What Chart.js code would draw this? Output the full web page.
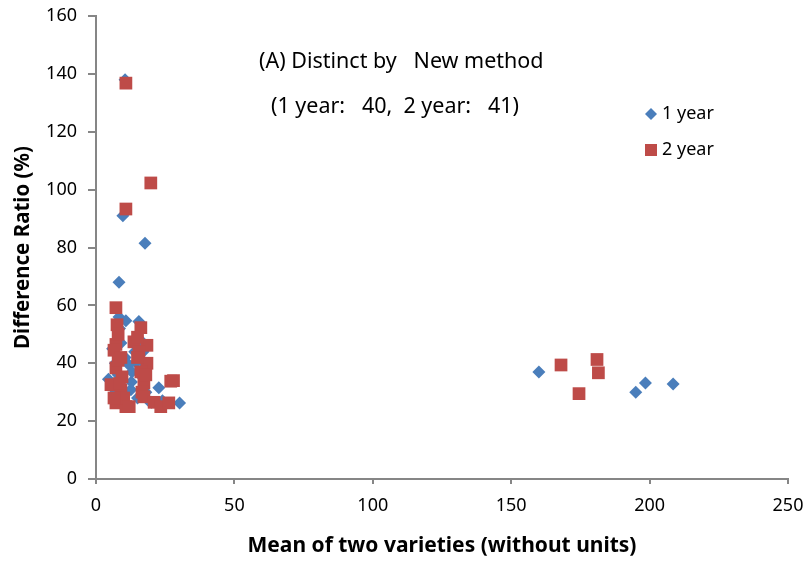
<!DOCTYPE html>
<html>
<head>
<meta charset="utf-8">
<script src="https://cdn.jsdelivr.net/npm/chart.js@4.4.1/dist/chart.umd.min.js"></script>
<style>
  html, body { margin: 0; padding: 0; background: #fff; }
  #wrap { width: 809px; height: 563px; position: relative; }
</style>
</head>
<body>
<div id="wrap"><canvas id="myChart" width="809" height="563"></canvas></div>
<script>
/* data */
const year1X = [10.5, 9.7, 17.7, 8.3, 8.3, 10.8, 15.5, 14.4, 11.9, 4.5, 22.7, 30.2, 12.6, 12.8,
  160, 195, 198.5, 208.5,
  6, 7, 8, 9, 10, 7.5, 11, 14, 16, 17, 18, 19, 20, 16, 9, 6.5, 13, 15, 24, 8.5, 17, 10.5];
const year1Y = [138, 91, 81.5, 68, 56, 54.7, 54.4, 40.3, 39.5, 34.5, 31.5, 26.3, 30.8, 33.5,
  37, 30, 33.2, 32.8,
  45, 40, 36, 32, 29, 27, 26, 44, 41, 35, 30, 27, 26.5, 48, 47, 31, 37, 28, 27, 52, 44, 42];

const year2X = [10.8, 19.8, 10.8, 7.2, 7.6, 16.2, 7.2, 6.5, 13.7, 18.4, 15.5, 9, 18.4, 7.2, 9.4,
  16.2, 27, 5.4, 9, 17.3, 16.6, 7.2, 10.8, 17.3, 21, 23.4, 26.3,
  168, 181, 181.5, 174.5,
  8, 10, 8.5, 15, 28, 6.5, 12, 18, 15, 8];
const year2Y = [136.8, 102.3, 93.3, 59.2, 53.3, 52.3, 46.5, 44.5, 47.4, 46.2, 44, 42, 40, 38.4, 35.3,
  37, 33.8, 32.6, 30.8, 33.2, 30, 26.3, 25, 28.4, 26.5, 25, 26.3,
  39.4, 41.3, 36.7, 29.5,
  41, 28, 33, 42, 34, 28, 25, 36, 49, 50];

const seriesNames = ['1 year', '2 year'];
const blue = '#4a7ebb';
const red = '#be4b48';
const FONT = '"Noto Sans", "DejaVu Sans", sans-serif';

function toPoints(xs, ys){
  return xs.map((x, i) => ({x: x, y: ys[i]}));
}

// title text and legend are drawn inside the plot area
const overlay = {
  id: 'overlay',
  afterDraw: chart => {
    const ctx = chart.ctx;
    ctx.save();
    ctx.fillStyle = '#000';
    ctx.font = '21.5px ' + FONT;
    ctx.textBaseline = 'middle';
    ctx.textAlign = 'left';
    ctx.fillText('(A) Distinct by   New method', 259, 62);
    ctx.fillText('(1 year:   40,  2 year:   41)', 271, 107);

    ctx.font = '18px ' + FONT;
    // legend
    ctx.fillStyle = blue;
    ctx.beginPath();
    ctx.moveTo(651, 108); ctx.lineTo(657, 114); ctx.lineTo(651, 120); ctx.lineTo(645, 114);
    ctx.closePath(); ctx.fill();
    ctx.fillStyle = red;
    ctx.fillRect(645, 144, 12, 12);
    ctx.fillStyle = '#000';
    ctx.fillText(seriesNames[0], 662, 114);
    ctx.fillText(seriesNames[1], 662, 150);
    ctx.restore();
  }
};

const axisColor = '#868686';

new Chart(document.getElementById('myChart'), {
  type: 'scatter',
  plugins: [overlay],
  data: {
    datasets: [{
      label: seriesNames[0],
      data: toPoints(year1X, year1Y),
      pointStyle: 'rectRot',
      pointRadius: 6.5,
      backgroundColor: blue,
      borderColor: blue,
      borderWidth: 0,
      order: 2
    }, {
      label: seriesNames[1],
      data: toPoints(year2X, year2Y),
      pointStyle: 'rect',
      pointRadius: 9,
      backgroundColor: red,
      borderColor: red,
      borderWidth: 0,
      order: 1
    }]
  },
  options: {
    responsive: false,
    animation: false,
    events: [],
    layout: { padding: { left: 0, right: 21, top: 16, bottom: 0 } },
    plugins: {
      legend: { display: false },
      tooltip: { enabled: false }
    },
    scales: {
      x: {
        type: 'linear',
        min: 0, max: 250,
        afterFit: s => { s.height = 84; s.paddingLeft = 0; s.paddingRight = 0; },
        border: { display: true, color: axisColor, width: 2 },
        grid: { drawOnChartArea: false, drawTicks: true, tickLength: 5, color: axisColor, lineWidth: 2 },
        ticks: { stepSize: 50, color: '#000', padding: 11, font: { family: FONT, size: 18 } },
        title: {
          display: true,
          text: 'Mean of two varieties (without units)',
          color: '#000',
          padding: { top: 10 },
          font: { family: FONT, size: 21, weight: 'bold' }
        }
      },
      y: {
        min: 0, max: 160,
        afterFit: s => { s.width = 96; s.paddingTop = 0; s.paddingBottom = 0; },
        border: { display: true, color: axisColor, width: 2 },
        grid: { drawOnChartArea: false, drawTicks: true, tickLength: 8, color: axisColor, lineWidth: 2 },
        ticks: { stepSize: 20, color: '#000', padding: 11, font: { family: FONT, size: 18 } },
        title: {
          display: true,
          text: 'Difference Ratio (%)',
          color: '#000',
          padding: { top: 11, bottom: 0 },
          font: { family: FONT, size: 20.5, weight: 'bold' }
        }
      }
    }
  }
});
</script>
</body>
</html>
